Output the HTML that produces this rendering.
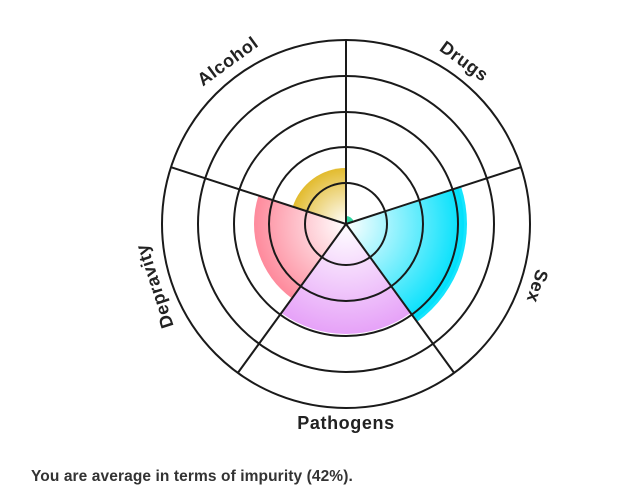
<!DOCTYPE html>
<html><head><meta charset="utf-8"><style>
html,body{margin:0;padding:0;background:#fff;width:617px;height:495px;overflow:hidden}
.t{position:absolute;left:31px;top:468px;font:bold 15.5px "Liberation Sans",sans-serif;color:#333;letter-spacing:0.1px}
</style></head><body>
<svg width="617" height="495" style="position:absolute;left:0;top:0">
<defs>
<radialGradient id="gy" cx="346" cy="224" r="56" gradientUnits="userSpaceOnUse"><stop offset="0" stop-color="#fff"/><stop offset="1" stop-color="#e2bb2e"/></radialGradient>
<radialGradient id="gc" cx="346" cy="224" r="118" gradientUnits="userSpaceOnUse"><stop offset="0" stop-color="#fff"/><stop offset="1" stop-color="#00e0fb"/></radialGradient>
<radialGradient id="gp" cx="346" cy="224" r="110" gradientUnits="userSpaceOnUse"><stop offset="0" stop-color="#fff"/><stop offset="1" stop-color="#e6a2f8"/></radialGradient>
<radialGradient id="gr" cx="346" cy="224" r="92" gradientUnits="userSpaceOnUse"><stop offset="0" stop-color="#fff"/><stop offset="1" stop-color="#fe8a9c"/></radialGradient>
</defs>
<g id="w"></g>
<g fill="none" stroke="#1a1a1a" stroke-width="2">
<circle cx="346" cy="224" r="184"/><circle cx="346" cy="224" r="148"/><circle cx="346" cy="224" r="112"/><circle cx="346" cy="224" r="77"/><circle cx="346" cy="224" r="41"/>
<g id="sp"></g>
</g>
<g id="lb" font-family="Liberation Sans,sans-serif" font-weight="bold" font-size="18" letter-spacing="0.6" fill="#222" text-anchor="middle" dominant-baseline="middle"></g>
</svg>
<div class="t">You are average in terms of impurity (42%).</div>
<script>
var cx=346,cy=224,NS="http://www.w3.org/2000/svg";
function pt(r,a){a=a*Math.PI/180;return [cx+r*Math.sin(a),cy-r*Math.cos(a)];}
function wedge(r,a0,a1,fill){var p0=pt(r,a0),p1=pt(r,a1);var e=document.createElementNS(NS,"path");
e.setAttribute("d","M"+cx+","+cy+"L"+p0+"A"+r+","+r+" 0 0 1 "+p1+"Z");e.setAttribute("fill",fill);document.getElementById("w").appendChild(e);}
wedge(8,0,72,"#2fd6a0");
wedge(121,72,144,"#16e4fd");
wedge(118,72,144,"url(#gc)");
wedge(110,144,216,"url(#gp)");
wedge(92,216,288,"url(#gr)");
wedge(56,288,360,"url(#gy)");
for(var i=0;i<5;i++){var p=pt(184,i*72);var l=document.createElementNS(NS,"line");l.setAttribute("x1",cx);l.setAttribute("y1",cy);l.setAttribute("x2",p[0]);l.setAttribute("y2",p[1]);document.getElementById("sp").appendChild(l);}
var labs=[["Drugs",36],["Sex",108],["Pathogens",180],["Depravity",252],["Alcohol",324]];
labs.forEach(function(d){var p=pt(200,d[1]);var t=document.createElementNS(NS,"text");t.setAttribute("x",p[0]);t.setAttribute("y",p[1]);
var rot=d[1]==180?0:d[1];t.setAttribute("transform","rotate("+rot+" "+p[0]+" "+p[1]+")");t.textContent=d[0];document.getElementById("lb").appendChild(t);});
</script>
</body></html>
